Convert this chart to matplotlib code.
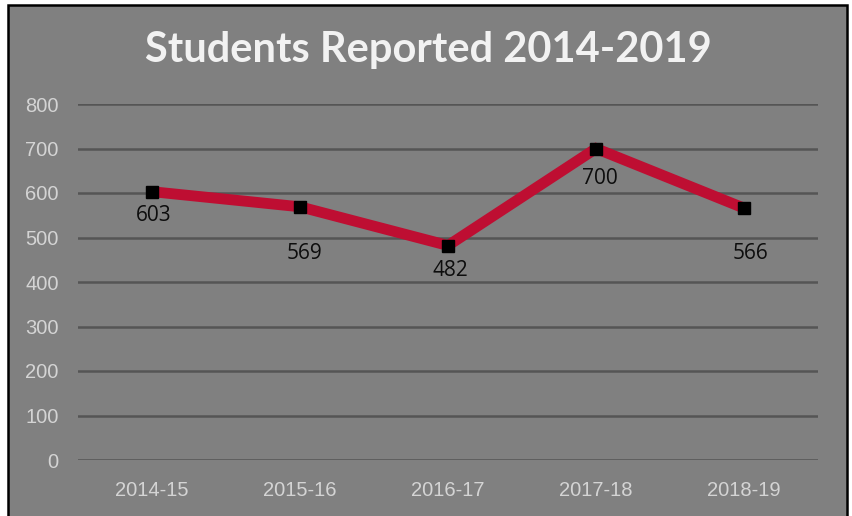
import matplotlib
matplotlib.use("Agg")
import matplotlib.pyplot as plt
from matplotlib.patches import Rectangle

categories = ["2014-15", "2015-16", "2016-17", "2017-18", "2018-19"]
students = [603, 569, 482, 700, 566]
y_ticks = [0, 100, 200, 300, 400, 500, 600, 700, 800]
title = "Students Reported 2014-2019"

# label offsets in pixels (dx, dy) relative to the point
label_offsets = [(2, -24), (4, -47), (2, -25), (4, -30), (7, -45)]

W, H = 852, 516
fig = plt.figure(figsize=(W / 100, H / 100), dpi=100, facecolor="white")

# gray chart area with black border
bg = Rectangle((8 / W, 0 - 0.01), (847 - 8) / W, (H - 5) / H + 0.01,
               transform=fig.transFigure, facecolor="#808080",
               edgecolor="black", linewidth=1.8, zorder=-10)
fig.patches.append(bg)

ax = fig.add_axes([78 / W, 1 - 460 / H, (818 - 78) / W, (460 - 104) / H])
ax.set_zorder(1)
ax.set_facecolor("none")
for s in ax.spines.values():
    s.set_visible(False)

x = list(range(len(categories)))
ax.plot(x, students, color="#BE0E32", linewidth=7.8, solid_capstyle="round",
        solid_joinstyle="miter", zorder=3)
ax.plot(x, students, linestyle="none", marker="s", markersize=8.5,
        color="black", zorder=4)

ax.set_xlim(-0.5, len(categories) - 0.5)
ax.set_ylim(0, 800)
ax.set_yticks(y_ticks)
ax.set_xticks(x)
ax.set_xticklabels(categories)
ax.yaxis.grid(True, color="#555555", linewidth=1.8)
ax.set_axisbelow(True)
ax.tick_params(axis="both", length=0, labelsize=14.5, labelcolor="#D4D4D4")
ax.tick_params(axis="x", pad=15)
ax.tick_params(axis="y", pad=14)
for lab in ax.get_xticklabels() + ax.get_yticklabels():
    lab.set_family(["Liberation Sans", "DejaVu Sans"])

for xi, v, (dx, dy) in zip(x, students, label_offsets):
    ax.annotate(str(v), (xi, v), xytext=(dx, dy), textcoords="offset pixels",
                ha="center", va="center", fontsize=15, color="#0D0D0D",
                family=["Open Sans", "DejaVu Sans"], zorder=5)

fig.text(428 / W, 1 - 50 / H, title, ha="center", va="center",
         fontsize=30, fontweight="bold", color="#F2F2F2",
         family=["Lato", "DejaVu Sans"], zorder=5)

fig.savefig("out.png", dpi=100, facecolor="white")
